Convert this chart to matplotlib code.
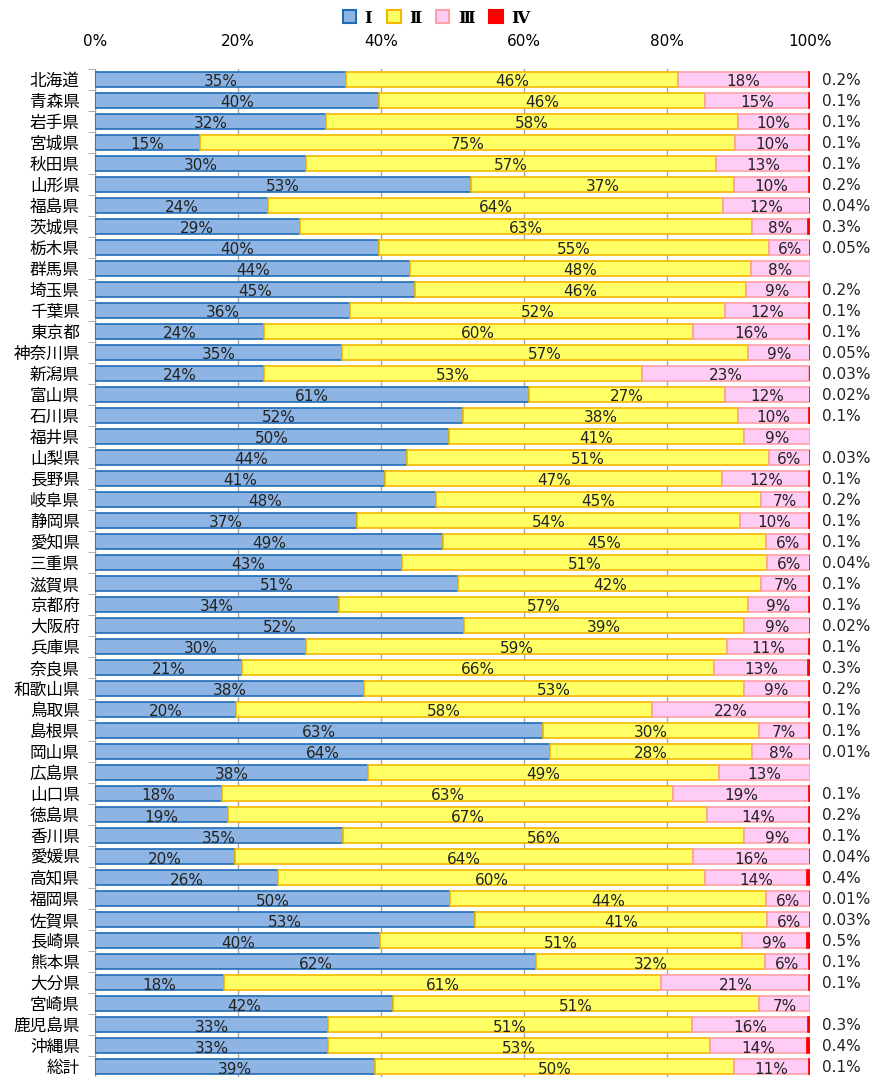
import numpy as np
import matplotlib.pyplot as plt
from matplotlib.patches import Patch

plt.rcParams['font.family'] = ['Noto Sans CJK JP', 'DejaVu Sans']

# 都道府県別の区分構成比（%）
prefs = ['北海道', '青森県', '岩手県', '宮城県', '秋田県', '山形県', '福島県', '茨城県',
         '栃木県', '群馬県', '埼玉県', '千葉県', '東京都', '神奈川県', '新潟県', '富山県',
         '石川県', '福井県', '山梨県', '長野県', '岐阜県', '静岡県', '愛知県', '三重県',
         '滋賀県', '京都府', '大阪府', '兵庫県', '奈良県', '和歌山県', '鳥取県', '島根県',
         '岡山県', '広島県', '山口県', '徳島県', '香川県', '愛媛県', '高知県', '福岡県',
         '佐賀県', '長崎県', '熊本県', '大分県', '宮崎県', '鹿児島県', '沖縄県', '総計']

cls1 = [35.1, 39.7, 32.3, 14.7, 29.5, 52.6, 24.2, 28.6, 39.7, 44.1, 44.8, 35.7,
        23.6, 34.6, 23.6, 60.7, 51.5, 49.5, 43.6, 40.6, 47.7, 36.6, 48.6, 42.9,
        50.8, 34.1, 51.6, 29.5, 20.6, 37.6, 19.7, 62.6, 63.6, 38.2, 17.8, 18.6,
        34.7, 19.6, 25.6, 49.6, 53.1, 39.9, 61.7, 18.0, 41.7, 32.6, 32.6, 39.2]
cls2 = [46.4, 45.6, 57.6, 74.8, 57.4, 36.8, 63.6, 63.3, 54.6, 47.6, 46.2, 52.4,
        60.0, 56.7, 52.9, 27.4, 38.4, 41.3, 50.6, 47.1, 45.4, 53.6, 45.3, 51.1,
        42.4, 57.2, 39.2, 58.9, 66.0, 53.2, 58.2, 30.3, 28.3, 49.1, 63.0, 67.0,
        56.1, 64.0, 59.7, 44.2, 40.9, 50.6, 32.0, 61.2, 51.2, 50.9, 53.4, 50.1]
cls3 = [18.3, 14.6, 10.0, 10.4, 13.0, 10.4, 12.2, 7.8, 5.7, 8.3, 8.8, 11.8,
        16.3, 8.65, 23.4, 11.9, 10.0, 9.2, 5.8, 12.2, 6.7, 9.7, 5.9, 6.0,
        6.7, 8.6, 9.2, 11.4, 13.1, 9.0, 22.0, 7.0, 8.1, 12.7, 19.1, 14.2,
        9.1, 16.4, 14.3, 6.2, 6.0, 9.0, 6.2, 20.7, 7.1, 16.2, 13.6, 10.6]
cls4 = [0.2, 0.1, 0.1, 0.1, 0.1, 0.2, 0.04, 0.3, 0.05, 0, 0.2, 0.1,
        0.1, 0.05, 0.03, 0.02, 0.1, 0, 0.03, 0.1, 0.2, 0.1, 0.1, 0.04,
        0.1, 0.1, 0.02, 0.1, 0.3, 0.2, 0.1, 0.1, 0.01, 0, 0.1, 0.2,
        0.1, 0.04, 0.4, 0.01, 0.03, 0.5, 0.1, 0.1, 0, 0.3, 0.4, 0.1]

fills = ['#8DB4E2', '#FFFF66', '#FFCCF5', '#FF0000']
edges = ['#1F6CB5', '#F5B800', '#FF9FA8', '#FF0000']
names = ['Ⅰ', 'Ⅱ', 'Ⅲ', 'Ⅳ']

fig = plt.figure(figsize=(8.72, 10.77), dpi=100)
ax = fig.add_axes([0.109, 0.0, 0.82, 0.936])

y = np.arange(len(prefs))
left = np.zeros(len(prefs))
for vals, fc, ec in zip([cls1, cls2, cls3], fills, edges):
    vals = np.array(vals)
    ax.barh(y, vals, left=left, height=0.72, color=fc, edgecolor=ec, linewidth=1.2, zorder=3)
    for yi, l, v in zip(y, left, vals):
        ax.text(l + v / 2, yi + 0.12, f'{v:.0f}%', ha='center', va='center',
                fontsize=11, family='DejaVu Sans', color='#222222', zorder=4)
    left = left + vals

# Ⅳ は右端に細く描き、値はグラフの外に表示
c4 = np.array(cls4)
ax.barh(y[c4 > 0], c4[c4 > 0], left=100 - c4[c4 > 0], height=0.72,
        color=fills[3], edgecolor=edges[3], linewidth=1.2, zorder=3)
for yi, v in zip(y, cls4):
    if v > 0:
        ax.text(101.6, yi + 0.05, f'{v:g}%', ha='left', va='center', fontsize=11,
                family='DejaVu Sans', color='#222222', clip_on=False)

ax.set_xlim(0, 100)
ax.set_ylim(len(prefs) - 0.5, -0.5)
ax.set_xticks(np.arange(0, 101, 20))
ax.set_xticklabels([f'{t}%' for t in range(0, 101, 20)], fontsize=11, family='DejaVu Sans')
ax.xaxis.tick_top()
ax.tick_params(axis='x', length=0, pad=14)
ax.set_yticks(y)
ax.set_yticklabels(prefs, fontsize=12)
ax.set_yticks(np.arange(-0.5, len(prefs), 1), minor=True)
ax.tick_params(axis='y', which='major', length=0, pad=11)
ax.tick_params(axis='y', which='minor', length=5, color='#A0A0A0')
ax.grid(axis='x', color='#A6A6A6', linewidth=1, zorder=0)
for s in ['top', 'right', 'bottom']:
    ax.spines[s].set_visible(False)
ax.spines['left'].set_color('#A0A0A0')

handles = [Patch(facecolor=fc, edgecolor=ec, linewidth=1.5) for fc, ec in zip(fills, edges)]
fig.legend(handles, names, loc='upper center', bbox_to_anchor=(0.5, 1.005), ncol=4,
           frameon=False, handlelength=0.8, handleheight=0.8,
           handletextpad=0.5, columnspacing=0.9,
           prop={'family': ['DejaVu Serif', 'Noto Sans CJK JP'], 'size': 12, 'weight': 'bold'})

fig.savefig('out.png', dpi=100)
